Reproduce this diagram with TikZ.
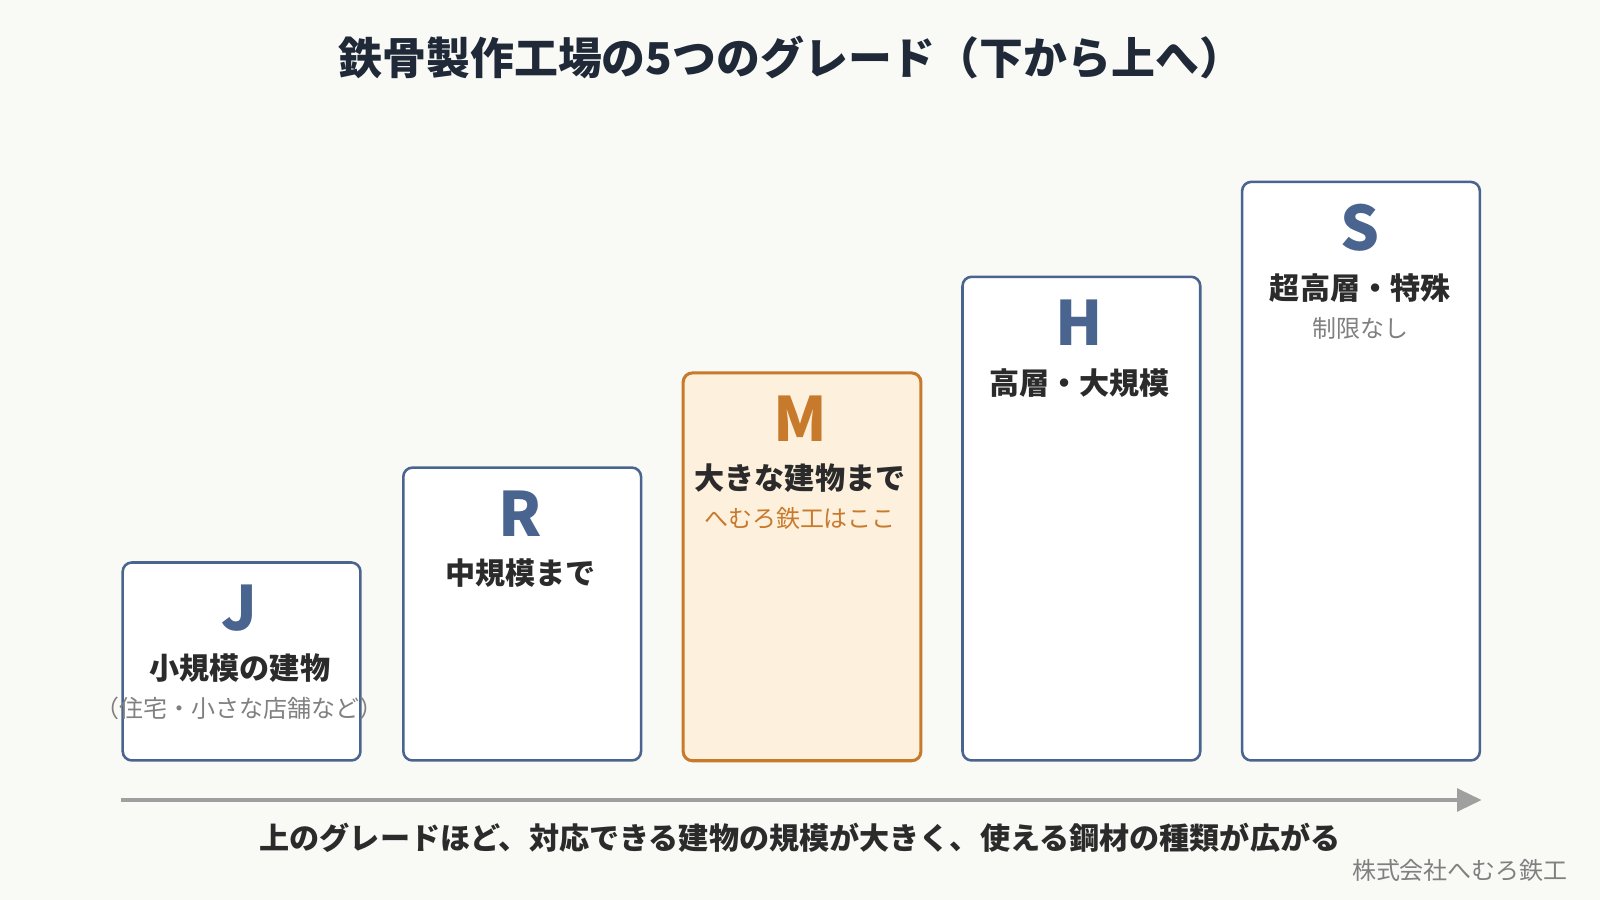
\documentclass[tikz,border=0pt]{standalone}
\usepackage{fontspec}
\setmainfont{Noto Sans CJK JP}
\usetikzlibrary{arrows.meta, positioning}
\definecolor{bgcol}{HTML}{F9F9F6}
\definecolor{gradeblue}{HTML}{4A6490}
\definecolor{gradeorange}{HTML}{C87A2C}
\definecolor{mfill}{HTML}{FDF0DC}
\definecolor{textdark}{HTML}{2B2B2B}
\definecolor{titlecol}{HTML}{1F2937}
\definecolor{subgray}{HTML}{808080}

\begin{document}
\begin{tikzpicture}[
        x=1pt, y=-1pt,
        grade/.style={draw=gradeblue, line width=2.5pt, fill=white, rounded corners=9pt,
            anchor=north west, minimum width=233pt, inner sep=0pt},
        letter/.style={text=gradeblue, font=\bfseries\fontsize{60}{62}\selectfont},
        label/.style={text=textdark, font=\bfseries\fontsize{29.5}{31}\selectfont},
        sublabel/.style={text=subgray, font=\fontsize{23.5}{26}\selectfont}
    ]
        % 背景
        \fill[bgcol] (0,0) rectangle (1568,882);
        \useasboundingbox (0,0) rectangle (1568,882);

        % タイトル
        \node[text=titlecol, font=\bfseries\fontsize{43}{45}\selectfont] (title) at (775,56) {鉄骨製作工場の5つのグレード（下から上へ）};

        % 各グレードの箱
        \node[grade, minimum height=194pt] (J) at (119,550) {};
        \node[grade, minimum height=287pt] (R) at (394,457) {};
        \node[grade, minimum height=380pt, draw=gradeorange, fill=mfill, line width=3pt] (M) at (668,364) {};
        \node[grade, minimum height=474pt] (H) at (942,270) {};
        \node[grade, minimum height=567pt] (S) at (1216,177) {};

        % J
        \node[letter] (Jl) at (235,596) {J};
        \node[label] (Jt) at (235,655) {小規模の建物};
        \node[sublabel] (Js) at (235,694) {（住宅・小さな店舗など）};
        % R
        \node[letter] (Rl) at (510,503) {R};
        \node[label] (Rt) at (510,562) {中規模まで};
        % M
        \node[letter, text=gradeorange] (Ml) at (784,410) {M};
        \node[label] (Mt) at (784,469) {大きな建物まで};
        \node[sublabel, text=gradeorange] (Ms) at (784,508) {へむろ鉄工はここ};
        % H
        \node[letter] (Hl) at (1058,316) {H};
        \node[label] (Ht) at (1058,375) {高層・大規模};
        % S
        \node[letter] (Sl) at (1333,223) {S};
        \node[label] (St) at (1333,282) {超高層・特殊};
        \node[sublabel] (Ss) at (1333,322) {制限なし};

        % 矢印
        \coordinate (arrowL) at (119,784);
        \coordinate (arrowR) at (1452,784);
        \draw[draw=gray!75, line width=4pt, -{Triangle[length=24pt, width=22pt]}] (arrowL) -- (arrowR);
        \node[label] (note) at (784,821) {上のグレードほど、対応できる建物の規模が大きく、使える鋼材の種類が広がる};

        % フッター
        \node[sublabel, anchor=east] (footer) at (1540,853) {株式会社へむろ鉄工};
    \end{tikzpicture}
\end{document}
